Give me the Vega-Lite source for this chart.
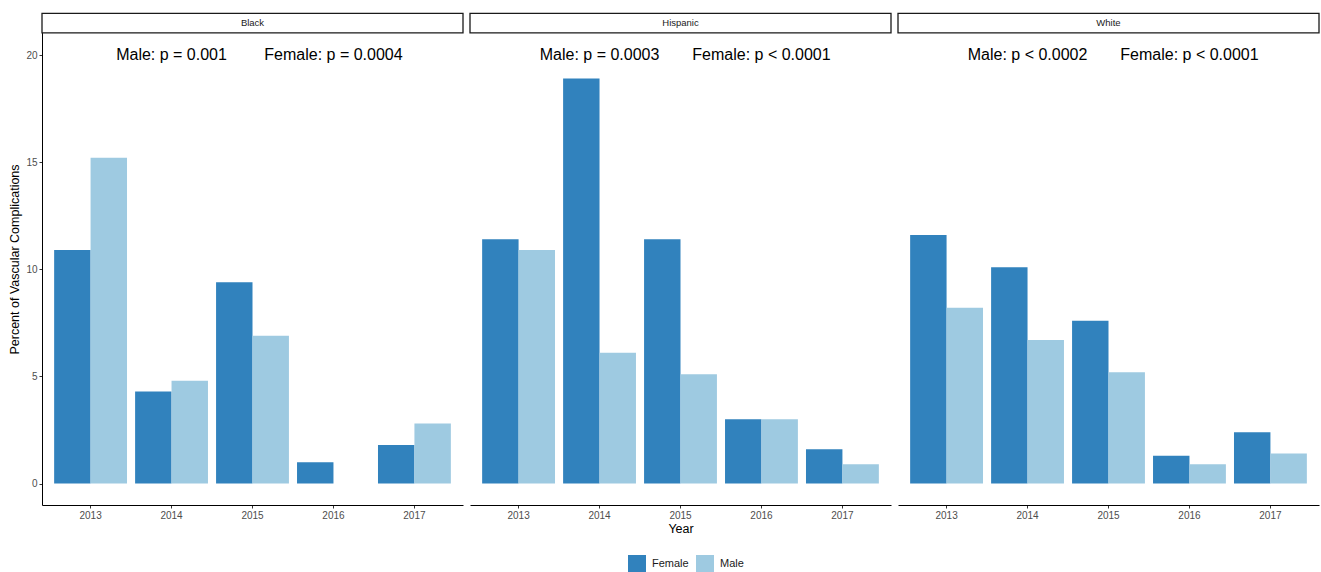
{
  "$schema": "https://vega.github.io/schema/vega-lite/v6.json",
  "padding": {"left": 8, "top": 12, "right": 2, "bottom": 5},
  "background": "white",
  "data": {"values": [
    {"race": "Black", "kind": "bar", "year": "2013", "sex": "Female", "pct": 10.9},
    {"race": "Black", "kind": "bar", "year": "2013", "sex": "Male", "pct": 15.2},
    {"race": "Black", "kind": "bar", "year": "2014", "sex": "Female", "pct": 4.3},
    {"race": "Black", "kind": "bar", "year": "2014", "sex": "Male", "pct": 4.8},
    {"race": "Black", "kind": "bar", "year": "2015", "sex": "Female", "pct": 9.4},
    {"race": "Black", "kind": "bar", "year": "2015", "sex": "Male", "pct": 6.9},
    {"race": "Black", "kind": "bar", "year": "2016", "sex": "Female", "pct": 1.0},
    {"race": "Black", "kind": "bar", "year": "2016", "sex": "Male", "pct": 0},
    {"race": "Black", "kind": "bar", "year": "2017", "sex": "Female", "pct": 1.8},
    {"race": "Black", "kind": "bar", "year": "2017", "sex": "Male", "pct": 2.8},
    {"race": "Hispanic", "kind": "bar", "year": "2013", "sex": "Female", "pct": 11.4},
    {"race": "Hispanic", "kind": "bar", "year": "2013", "sex": "Male", "pct": 10.9},
    {"race": "Hispanic", "kind": "bar", "year": "2014", "sex": "Female", "pct": 18.9},
    {"race": "Hispanic", "kind": "bar", "year": "2014", "sex": "Male", "pct": 6.1},
    {"race": "Hispanic", "kind": "bar", "year": "2015", "sex": "Female", "pct": 11.4},
    {"race": "Hispanic", "kind": "bar", "year": "2015", "sex": "Male", "pct": 5.1},
    {"race": "Hispanic", "kind": "bar", "year": "2016", "sex": "Female", "pct": 3.0},
    {"race": "Hispanic", "kind": "bar", "year": "2016", "sex": "Male", "pct": 3.0},
    {"race": "Hispanic", "kind": "bar", "year": "2017", "sex": "Female", "pct": 1.6},
    {"race": "Hispanic", "kind": "bar", "year": "2017", "sex": "Male", "pct": 0.9},
    {"race": "White", "kind": "bar", "year": "2013", "sex": "Female", "pct": 11.6},
    {"race": "White", "kind": "bar", "year": "2013", "sex": "Male", "pct": 8.2},
    {"race": "White", "kind": "bar", "year": "2014", "sex": "Female", "pct": 10.1},
    {"race": "White", "kind": "bar", "year": "2014", "sex": "Male", "pct": 6.7},
    {"race": "White", "kind": "bar", "year": "2015", "sex": "Female", "pct": 7.6},
    {"race": "White", "kind": "bar", "year": "2015", "sex": "Male", "pct": 5.2},
    {"race": "White", "kind": "bar", "year": "2016", "sex": "Female", "pct": 1.3},
    {"race": "White", "kind": "bar", "year": "2016", "sex": "Male", "pct": 0.9},
    {"race": "White", "kind": "bar", "year": "2017", "sex": "Female", "pct": 2.4},
    {"race": "White", "kind": "bar", "year": "2017", "sex": "Male", "pct": 1.4},
    {"race": "Black", "kind": "ann", "year": "2014", "label": "Male: p = 0.001"},
    {"race": "Black", "kind": "ann", "year": "2016", "label": "Female: p = 0.0004"},
    {"race": "Hispanic", "kind": "ann", "year": "2014", "label": "Male: p = 0.0003"},
    {"race": "Hispanic", "kind": "ann", "year": "2016", "label": "Female: p < 0.0001"},
    {"race": "White", "kind": "ann", "year": "2014", "label": "Male: p < 0.0002"},
    {"race": "White", "kind": "ann", "year": "2016", "label": "Female: p < 0.0001"},
    {"race": "Black", "kind": "strip", "label": "Black"},
    {"race": "Hispanic", "kind": "strip", "label": "Hispanic"},
    {"race": "White", "kind": "strip", "label": "White"}
  ]},
  "facet": {
    "column": {"field": "race", "type": "nominal", "title": "Year",
               "header": {"labels": false, "titleOrient": "bottom", "titleFont": "Liberation Sans",
                          "titleFontSize": 12.5, "titleFontWeight": "normal", "titleColor": "#000000",
                          "titlePadding": -7}}
  },
  "spacing": 7,
  "bounds": "flush",
  "spec": {
    "width": 421,
    "height": 492,
    "layer": [
      {
        "transform": [{"filter": "datum.kind === 'bar'"}],
        "mark": {"type": "bar"},
        "encoding": {
          "x": {"field": "year", "type": "nominal", "title": null,
                "scale": {"paddingInner": 0.1, "paddingOuter": 0.15},
                "axis": {"labelAngle": 0}},
          "xOffset": {"field": "sex", "type": "nominal", "scale": {"paddingInner": 0, "paddingOuter": 0}},
          "y": {"field": "pct", "type": "quantitative", "title": "Percent of Vascular Complications",
                "scale": {"domain": [-1, 21.96], "nice": false, "zero": false},
                "axis": {"values": [0, 5, 10, 15, 20]}},
          "y2": {"datum": 0},
          "color": {"field": "sex", "type": "nominal",
                    "scale": {"domain": ["Female", "Male"], "range": ["#3182bd", "#9ecae1"]},
                    "legend": {"title": null, "orient": "none", "legendX": 586, "legendY": 542, "direction": "horizontal",
                               "symbolType": "square", "symbolSize": 324, "symbolStrokeWidth": 0,
                               "labelFontSize": 11, "labelFont": "Liberation Sans", "labelColor": "#1a1a1a",
                               "columnPadding": 7, "labelOffset": 6}}
        }
      },
      {
        "transform": [{"filter": "datum.kind === 'ann'"}],
        "mark": {"type": "text", "fontSize": 16, "font": "Liberation Sans", "color": "#000000", "baseline": "middle"},
        "encoding": {
          "x": {"field": "year", "type": "nominal"},
          "y": {"datum": 20},
          "text": {"field": "label"}
        }
      },
      {
        "transform": [{"filter": "datum.kind === 'strip'"}],
        "mark": {"type": "rect", "fill": "white", "stroke": "#1a1a1a", "strokeWidth": 1.3},
        "encoding": {
          "x": {"value": 0},
          "x2": {"value": "width"},
          "y": {"datum": 21.03},
          "y2": {"datum": 21.94}
        }
      },
      {
        "transform": [{"filter": "datum.kind === 'strip'"}],
        "mark": {"type": "text", "fontSize": 9.5, "font": "Liberation Sans", "color": "#1a1a1a", "baseline": "middle"},
        "encoding": {
          "x": {"value": 210.5},
          "y": {"datum": 21.48},
          "text": {"field": "label"}
        }
      }
    ]
  },
  "config": {
    "view": {"stroke": null},
    "font": "Liberation Sans",
    "axis": {
      "grid": false,
      "domainColor": "#000000",
      "domainWidth": 1,
      "tickColor": "#333333",
      "tickSize": 3,
      "labelColor": "#4d4d4d",
      "labelFontSize": 10,
      "labelFont": "Liberation Sans",
      "titleFont": "Liberation Sans",
      "titleFontSize": 12.5,
      "titleFontWeight": "normal",
      "titleColor": "#000000"
    },
    "axisX": {"titlePadding": 2},
    "axisY": {"titlePadding": 4}
  }
}
